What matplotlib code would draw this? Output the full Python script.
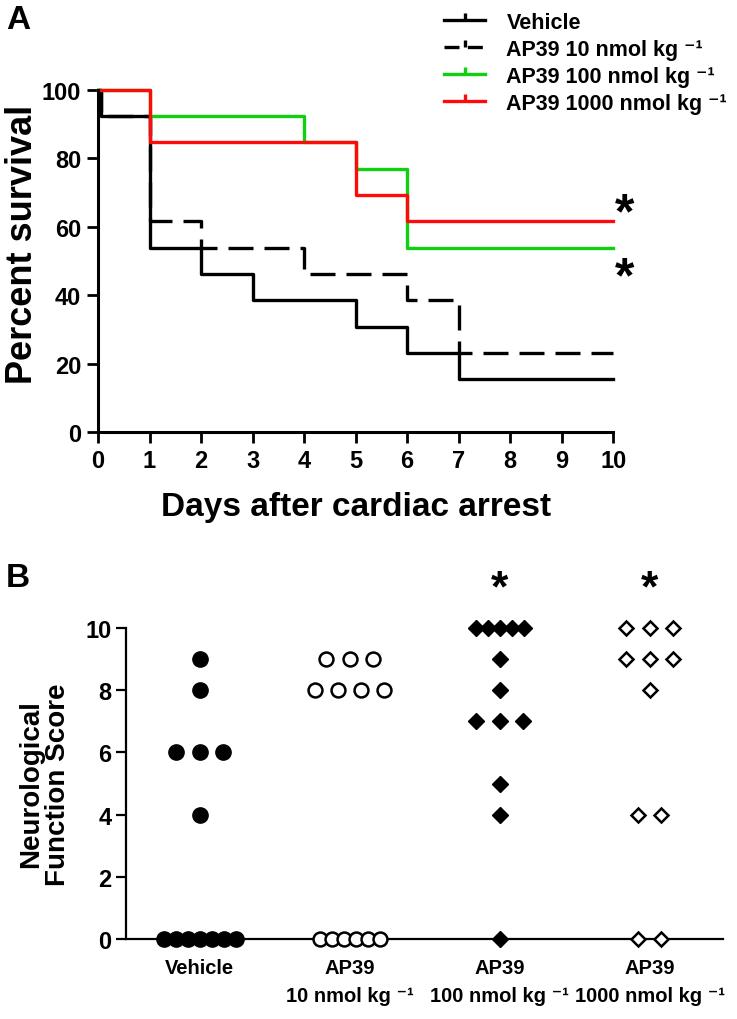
"""Kaplan-Meier survival and neurological score after cardiac arrest."""

import matplotlib
matplotlib.use("Agg")
import matplotlib.pyplot as plt
import numpy as np
from matplotlib.lines import Line2D
from matplotlib.path import Path

plt.rcParams["font.family"] = ["Liberation Sans", "DejaVu Sans"]
plt.rcParams["font.weight"] = "bold"

SUP = " \u207b\u00b9"

# ---- panel A: survival curves ----
days_vehicle = [0, 0.05, 1, 2, 3, 5, 6, 7, 10]
surv_vehicle = [100, 92.3, 53.8, 46.2, 38.5, 30.8, 23.1, 15.4, 15.4]
days_ap10 = [0, 0.05, 1, 2, 4, 6, 7, 10]
surv_ap10 = [100, 92.3, 61.5, 53.8, 46.2, 38.5, 23.1, 23.1]
days_ap100 = [0, 1, 4, 5, 6, 10]
surv_ap100 = [100, 92.3, 84.6, 76.9, 53.8, 53.8]
days_ap1000 = [0, 1, 5, 6, 10]
surv_ap1000 = [100, 84.6, 69.2, 61.5, 61.5]

legend_labels = ["Vehicle", "AP39 10 nmol kg" + SUP,
                 "AP39 100 nmol kg" + SUP, "AP39 1000 nmol kg" + SUP]

# ---- panel B: neurological scores ----
groups = ["Vehicle", "AP39\n10 nmol kg" + SUP,
          "AP39\n100 nmol kg" + SUP, "AP39\n1000 nmol kg" + SUP]
score_vehicle = [9, 8, 6, 6, 6, 4, 0, 0, 0, 0, 0, 0, 0]
score_ap10 = [9, 9, 9, 8, 8, 8, 8, 0, 0, 0, 0, 0, 0]
score_ap100 = [10, 10, 10, 10, 10, 9, 8, 7, 7, 7, 5, 4, 0]
score_ap1000 = [10, 10, 10, 9, 9, 9, 8, 4, 4, 0, 0]

fig = plt.figure(figsize=(7.37, 10.2), dpi=100)

# panel A
ax1 = fig.add_axes([0.133, 0.5755, 0.699, 0.3356])
lw = 2.4
green = "#10d010"
red = "#ff0a0a"
ax1.step(days_vehicle, surv_vehicle, where="post", color="black", lw=lw,
         clip_on=False)
ax1.step(days_ap10, surv_ap10, where="post", color="black", lw=lw,
         linestyle=(0, (7.5, 3.3)), clip_on=False)
ax1.step(days_ap100, surv_ap100, where="post", color=green, lw=lw,
         clip_on=False)
ax1.step(days_ap1000, surv_ap1000, where="post", color=red, lw=lw,
         clip_on=False)

ax1.set_xlim(0, 10)
ax1.set_ylim(0, 100)
ax1.set_xticks(range(0, 11))
ax1.set_yticks(range(0, 101, 20))
for side in ["top", "right"]:
    ax1.spines[side].set_visible(False)
for side in ["left", "bottom"]:
    ax1.spines[side].set_linewidth(2.2)
ax1.tick_params(direction="out", length=8, width=2, labelsize=17, pad=4)
ax1.set_xlabel("Days after cardiac arrest", fontsize=24, fontweight="bold",
               labelpad=14)
ax1.set_ylabel("Percent survival", fontsize=26, fontweight="bold")
ax1.yaxis.set_label_coords(-0.112, 0.55)

ax1.text(10.23, 63.5, "*", fontsize=36, ha="center", va="center")
ax1.text(10.23, 45, "*", fontsize=36, ha="center", va="center")

tick_mark = Path([(0, 0), (0, 1)])
handles = [
    Line2D([], [], color="black", lw=lw, marker=tick_mark, markersize=10,
           markeredgewidth=lw),
    Line2D([], [], color="black", lw=lw, linestyle=(0, (4.5, 2.5)),
           marker=tick_mark, markersize=10, markeredgewidth=lw),
    Line2D([], [], color=green, lw=lw, marker=tick_mark, markersize=10,
           markeredgewidth=lw),
    Line2D([], [], color=red, lw=lw, marker=tick_mark, markersize=10,
           markeredgewidth=lw),
]
fig.legend(handles, legend_labels, loc="upper left",
           bbox_to_anchor=(0.585, 1.0), frameon=False, fontsize=15.5,
           handlelength=1.9, handletextpad=1.0, labelspacing=0.28,
           numpoints=1, borderaxespad=0.2)

fig.text(0.008, 0.995, "A", fontsize=24, fontweight="bold", va="top")

# panel B
ax2 = fig.add_axes([0.171, 0.0784, 0.81, 0.3049])
scores = [score_vehicle, score_ap10, score_ap100, score_ap1000]
styles = [
    dict(marker="o", markersize=11, markerfacecolor="black",
         markeredgecolor="black"),
    dict(marker="o", markersize=10, markerfacecolor="white",
         markeredgecolor="black", markeredgewidth=1.8),
    dict(marker="D", markersize=7.8, markerfacecolor="black",
         markeredgecolor="black"),
    dict(marker="D", markersize=7.4, markerfacecolor="white",
         markeredgecolor="black", markeredgewidth=1.8),
]
for i, (vals, st) in enumerate(zip(scores, styles)):
    vals = np.array(vals)
    for v in np.unique(vals):
        n = int(np.sum(vals == v))
        gap = 0.155 if n <= 4 else 0.08
        xs = i + (np.arange(n) - (n - 1) / 2) * gap
        ax2.plot(xs, [v] * n, linestyle="none", clip_on=False, zorder=3, **st)

ax2.set_xlim(-0.49, 3.49)
ax2.set_ylim(0, 10)
ax2.set_yticks(range(0, 11, 2))
ax2.set_xticks(range(4))
ax2.set_xticklabels(groups, fontsize=14.5, fontweight="bold", linespacing=1.55)
for side in ["top", "right"]:
    ax2.spines[side].set_visible(False)
for side in ["left", "bottom"]:
    ax2.spines[side].set_linewidth(1.6)
ax2.tick_params(axis="y", direction="out", length=7, width=1.6, labelsize=17)
ax2.tick_params(axis="x", length=0, pad=14)
ax2.set_ylabel("Neurological\nFunction Score", fontsize=20,
               fontweight="bold", labelpad=10, linespacing=1.05)

ax2.text(2, 11.25, "*", fontsize=32, ha="center", va="center")
ax2.text(3, 11.25, "*", fontsize=32, ha="center", va="center")

fig.text(0.008, 0.448, "B", fontsize=24, fontweight="bold", va="top")

fig.savefig("out.png", dpi=100)
plt.close(fig)
